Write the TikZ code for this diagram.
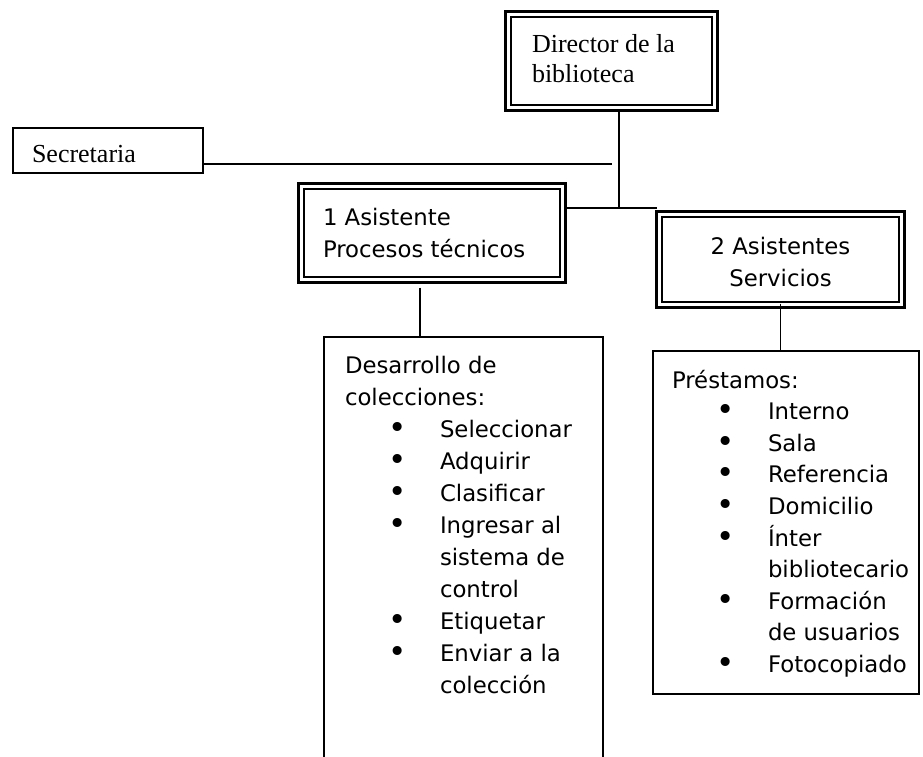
\documentclass[tikz,border=0pt]{standalone}
\usepackage{fontspec}
\setmainfont{Liberation Serif}
\newfontfamily\sansf{DejaVu Sans}
\usetikzlibrary{calc}
\newcommand\mylines[2][l]{\begin{tabular}[t]{@{}#1@{}}#2\end{tabular}}
\newcommand\bigbul{\raisebox{-1pt}{\fontsize{31}{32}\selectfont\textbullet}}
\newcommand\bulL{\makebox[95pt][l]{\hspace{53pt}\makebox[0pt]{\bigbul}}}
\newcommand\bulR{\makebox[96pt][l]{\hspace{54pt}\makebox[0pt]{\bigbul}}}
\begin{document}
\begin{tikzpicture}[x=1pt,y=-1pt,
  every node/.style={inner sep=0pt, outer sep=0pt},
  dblbox/.style={draw, line width=3pt},
  singlebox/.style={draw, line width=1.6pt},
  listbox/.style={draw, line width=2pt},
  conn/.style={line width=1.5pt},
  serift/.style={font=\fontsize{26}{30}\selectfont},
  sanst/.style={font=\sansf\fontsize{22.8}{32}\selectfont},
  listt/.style={font=\sansf\fontsize{22.8}{32}\selectfont},
  listr/.style={font=\sansf\fontsize{22.8}{31.6}\selectfont}]
\useasboundingbox (0,0) rectangle (923,756);

% boxes
\node[dblbox, minimum width=212pt, minimum height=99pt] (dir) at (611.5,61) {};
\draw[line width=1.5pt] ([xshift=5.5pt,yshift=-5.5pt]dir.north west) rectangle ([xshift=-5.5pt,yshift=5.5pt]dir.south east);

\node[singlebox, minimum width=190.5pt, minimum height=45.5pt] (sec) at (108,150.5) {};

\node[dblbox, minimum width=267pt, minimum height=99pt] (b1) at (432,233) {};
\draw[line width=1.5pt] ([xshift=5.5pt,yshift=-5.5pt]b1.north west) rectangle ([xshift=-5.5pt,yshift=5.5pt]b1.south east);

\node[dblbox, minimum width=248pt, minimum height=96pt] (b2) at (780.5,259.5) {};
\draw[line width=1.5pt] ([xshift=5.5pt,yshift=-5.5pt]b2.north west) rectangle ([xshift=-5.5pt,yshift=5.5pt]b2.south east);

\node[listbox, minimum width=279pt, minimum height=423pt] (l1) at (463.5,548.5) {};
\node[listbox, minimum width=266pt, minimum height=343pt] (r1) at (786,522.5) {};

% texts
\node[serift, anchor=base west] (dirt) at (532,52) {\mylines{Director de la\\biblioteca}};
\node[serift, anchor=base west] (sect) at (32,162) {Secretaria};
\node[sanst, anchor=base west] (b1t) at (323,225) {\mylines{1 Asistente\\Procesos técnicos}};
\node[sanst, anchor=base] (b2t) at (780.5,254) {\mylines[c]{2 Asistentes\\Servicios}};
\node[listt, anchor=base west] (l1t) at (345,373) {\begin{tabular}[t]{@{}l@{}l@{}}
\multicolumn{2}{@{}l@{}}{Desarrollo de}\\
\multicolumn{2}{@{}l@{}}{colecciones:}\\
\bulL & Seleccionar\\
\bulL & Adquirir\\
\bulL & Clasificar\\
\bulL & Ingresar al\\
 & sistema de\\
 & control\\
\bulL & Etiquetar\\
\bulL & Enviar a la\\
 & colección
\end{tabular}};
\node[listr, anchor=base west] (r1t) at (672,388) {\begin{tabular}[t]{@{}l@{}l@{}}
\multicolumn{2}{@{}l@{}}{Préstamos:}\\
\bulR & Interno\\
\bulR & Sala\\
\bulR & Referencia\\
\bulR & Domicilio\\
\bulR & Ínter\\
 & bibliotecario\\
\bulR & Formación\\
 & de usuarios\\
\bulR & Fotocopiado
\end{tabular}};

% connectors
\coordinate (hj) at (619,208);
\coordinate (se) at (612,164);
\coordinate (c1) at (420,0);
\draw[conn] (dir.south -| hj) -- (hj);
\draw[conn] (b1.east |- hj) -- (b2.west |- hj);
\draw[conn] (sec.east |- se) -- (se);
\draw[conn] ($(b1.south -| c1)+(0,5)$) -- (l1.north -| c1);
\draw[conn] ($(b2.south)+(0,-4)$) -- (r1.north -| b2.south);
\end{tikzpicture}
\end{document}
